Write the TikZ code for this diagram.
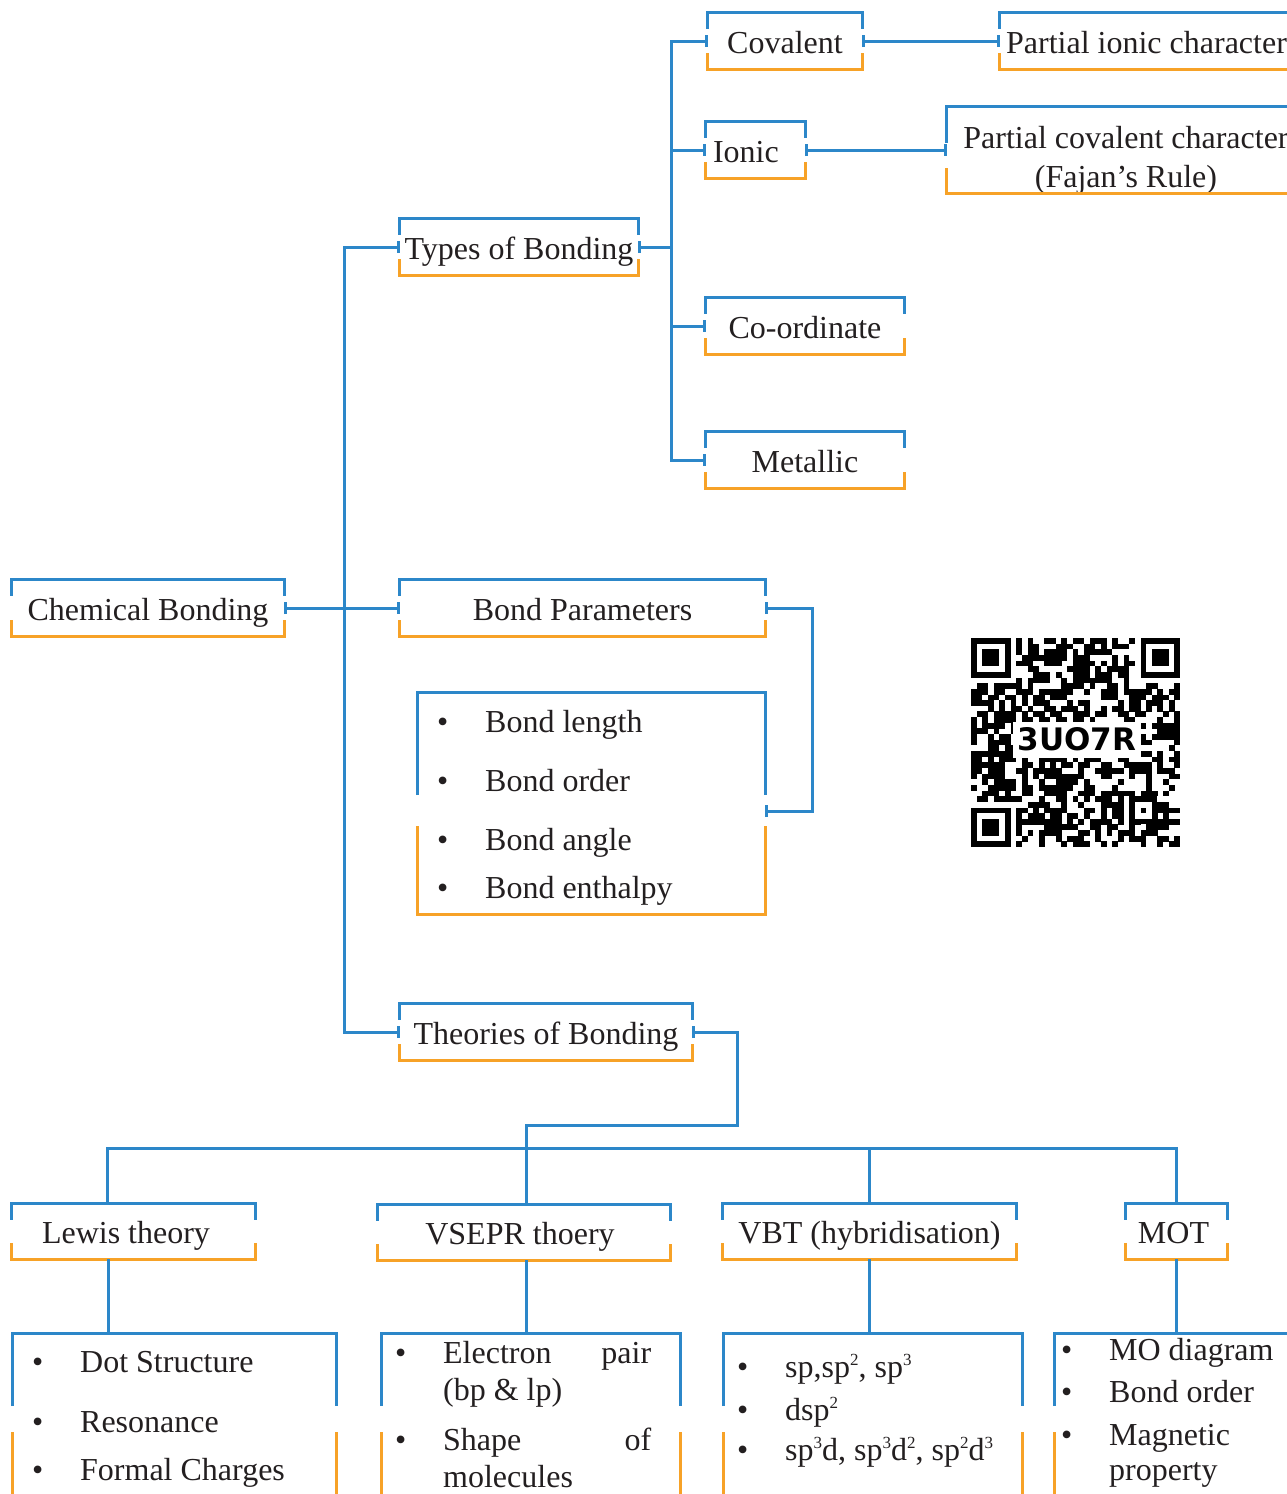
\documentclass[tikz,border=0pt]{standalone}
\usepackage{fontspec}
\setmainfont{Liberation Serif}
\newfontfamily\qrfont{DejaVu Sans}
\usetikzlibrary{arrows.meta,calc}
\definecolor{lineblue}{HTML}{2C87C9}
\definecolor{lineorange}{HTML}{F7A227}
\definecolor{ink}{HTML}{231F20}
\newcommand\itm{\makebox[48pt][l]{\textbullet}}
\newcommand\sups[1]{\raisebox{12pt}{\fontsize{17}{17}\selectfont #1}}
\newcommand\boxbrackets[3]{%
  \draw[topline] ($(#1.north west)+(0,#2)$) -- (#1.north west) -- (#1.north east) -- ($(#1.north east)+(0,#2)$);
  \draw[botline] ($(#1.south west)+(0,-#3)$) -- (#1.south west) -- (#1.south east) -- ($(#1.south east)+(0,-#3)$);}

\begin{document}
\begin{tikzpicture}[x=1pt,y=-1pt,
  conn/.style={draw=lineblue,line width=3pt},
  topline/.style={draw=lineblue,line width=3pt},
  botline/.style={draw=lineorange,line width=3pt},
  ticks/.style={{Bar[width=12pt]}-{Bar[width=12pt]}},
  tickstart/.style={{Bar[width=12pt]}-},
  tickend/.style={-{Bar[width=12pt]}},
  lbl/.style={font=\fontsize{32}{38}\selectfont,text=ink,inner sep=0pt,
    minimum height=56pt,text height=24pt,text depth=0pt},
  lst/.style={font=\fontsize{32}{38}\selectfont,text=ink,inner ysep=0pt,anchor=north west}]
  \useasboundingbox (0,0) rectangle (1287,1494);
  \clip (0,0) rectangle (1287,1494);

  \node[lbl,minimum width=272pt] (chem) at (148,608) {Chemical Bonding};
  \node[lbl,minimum width=238pt] (types) at (519,247) {Types of Bonding};
  \node[lbl,minimum width=365pt] (bpar) at (582.5,608) {Bond Parameters};
  \node[lbl,minimum width=292pt] (theories) at (546,1032) {Theories of Bonding};

  \node[lbl,minimum width=154pt] (cov) at (785,41) {Covalent};
  \node[lbl,minimum width=99pt] (ion) at (755.5,150) {\makebox[85pt][l]{Ionic}};
  \node[lbl,minimum width=198pt] (coord) at (805,326) {Co-ordinate};
  \node[lbl,minimum width=198pt] (metal) at (805,460) {Metallic};
  \node[lbl,minimum width=293pt] (pic) at (1146.5,41) {Partial ionic character};
  \node[lbl,minimum width=358pt,minimum height=86pt,text height=20pt,text depth=24pt] (pcc) at (1126,150)
    {\parbox[t]{350pt}{\centering Partial covalent character\\[1pt](Fajan's Rule)}};

  \node[lst,inner xsep=20pt] (blist) at (417,692) {\parbox[t][222pt][t]{308pt}{\rule{0pt}{40pt}%
    \itm Bond length\\[21pt]\itm Bond order\\[21pt]\itm Bond angle\\[10pt]\itm Bond enthalpy}};

  \node[lbl,minimum width=243pt,minimum height=55pt] (lewis) at (133.5,1231.5) {Lewis theory\hspace*{15pt}};
  \node[lbl,minimum width=292pt,minimum height=55pt] (vsepr) at (524,1232.5) {VSEPR thoery\hspace*{8pt}};
  \node[lbl,minimum width=293pt,minimum height=55pt] (vbt) at (869.5,1231.5) {VBT (hybridisation)};
  \node[lbl,minimum width=101pt,minimum height=55pt] (mot) at (1176.5,1231.5) {MOT\hspace*{6pt}};

  \node[lst,inner xsep=20pt] (llist) at (12,1333) {\parbox[t][187pt][t]{284pt}{\rule{0pt}{39pt}%
    \itm Dot Structure\\[22pt]\itm Resonance\\[10pt]\itm Formal Charges}};
  \node[lst,inner xsep=14pt] (vlist) at (381,1333) {\parbox[t][187pt][t]{271pt}{\rule{0pt}{30pt}%
    \itm\makebox[208pt]{Electron\hfill pair}\\[-1pt]\hspace*{48pt}(bp \& lp)\\[12pt]%
    \itm\makebox[208pt]{Shape\hfill of}\\[-1pt]\hspace*{48pt}molecules}};
  \node[lst,inner xsep=14pt] (hlist) at (723,1333) {\parbox[t][187pt][t]{271pt}{\rule{0pt}{44pt}%
    \itm sp,sp\sups{2}, sp\sups{3}\\[5pt]\itm dsp\sups{2}\\[2pt]%
    \itm sp\sups{3}d, sp\sups{3}d\sups{2}, sp\sups{2}d\sups{3}}};
  \node[lst,inner xsep=7pt] (mlist) at (1054,1333) {\parbox[t][187pt][t]{236pt}{\rule{0pt}{27pt}%
    \itm MO diagram\\[4pt]\itm Bond order\\[5pt]\itm Magnetic\\[-3pt]\hspace*{48pt}property}};

  \foreach \n in {chem,types,bpar,theories,cov,ion,coord,metal,pic,lewis,vsepr,vbt,mot}{\boxbrackets{\n}{16}{16}}
  \boxbrackets{pcc}{36}{25}
  \boxbrackets{blist}{103}{88}
  \foreach \n in {llist,vlist,hlist,mlist}{\boxbrackets{\n}{73}{88}}

  \draw[conn,ticks] (chem.east) -- (bpar.west);
  \coordinate (trunk) at (344,608);
  \draw[conn,tickend] (trunk) |- (types.west);
  \draw[conn,tickend] (trunk) |- (theories.west);
  \coordinate (fork) at (671,247);
  \draw[conn,tickstart] (types.east) -- (fork);
  \foreach \n in {cov,ion,coord,metal} \draw[conn,tickend] (fork) |- (\n.west);
  \draw[conn,ticks] (cov.east) -- (pic.west);
  \draw[conn,ticks] (ion.east) -- (pcc.west);
  \draw[conn,ticks] (bpar.east) -- ++(47,0) |- ([yshift=-8pt]blist.east);

  \draw[conn,tickstart] (theories.east) -| ++(45,93) -| ([xshift=2pt]vsepr.north);
  \draw[conn] ([xshift=-26pt]lewis.north) -- ++(0,-55) -| (mot.north);
  \draw[conn] (vbt.north) -- ++(0,-55);
  \draw[conn] ([xshift=-25pt]lewis.south) |- (llist.north);
  \draw[conn] ([xshift=2pt]vsepr.south) |- (vlist.north);
  \draw[conn] (vbt.south) |- (hlist.north);
  \draw[conn] (mot.south) |- (mlist.north);

  \begin{scope}[shift={(971,638)},x=5.65pt,y=-5.65pt]
    \pgfmathsetseed{3107}
    \foreach \i in {0,...,36}{
      \foreach \j in {0,...,36}{
        \pgfmathtruncatemacro\bit{rnd<0.56}
        \ifnum\bit=1 \fill (\i,\j) rectangle ++(1.02,1.02);\fi
      }}
    \foreach \a/\b in {0/0,30/0,0/30}{
      \fill[white] (\a-1,\b-1) rectangle ++(9,9);
      \fill (\a,\b) rectangle ++(7,7);
      \fill[white] (\a+1,\b+1) rectangle ++(5,5);
      \fill (\a+2,\b+2) rectangle ++(3,3);}
    \fill (28,28) rectangle ++(5,5);
    \fill[white] (29,29) rectangle ++(3,3);
    \fill (30,30) rectangle ++(1,1);
    \fill[white] (37,-1) rectangle (39,38);
    \fill[white] (7.4,14.9) rectangle (30.1,21.2);
    \node[font=\qrfont\bfseries\fontsize{31}{31}\selectfont,inner sep=0pt] (qrcode) at (18.75,18) {3UO7R};
  \end{scope}
\end{tikzpicture}
\end{document}
